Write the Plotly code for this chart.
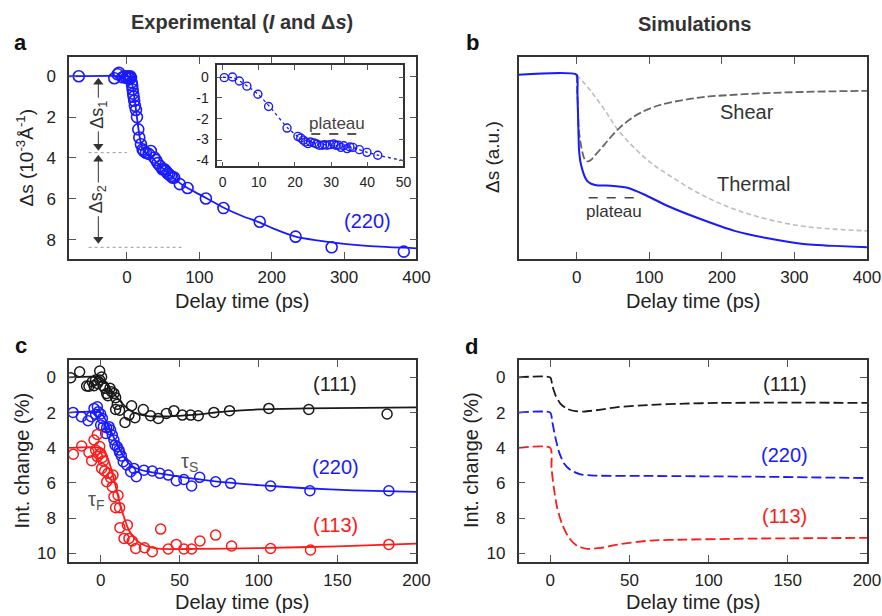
import plotly.graph_objects as go

FONT = "Liberation Sans, Arial, sans-serif"
BLUE = "#1a1aff"
RED = "#ff1a1a"
BLACK = "#1a1a1a"
DGRAY = "#666666"
LGRAY = "#bdbdbd"
TXT = "#333333"

# ---------------- Panel a: experimental (220) delta s ----------------
a_x = [-66.6, -17.5, -12.9, -11, -6, -3, -1, 1, 2.5, 3.5, 4.5, 5.5, 6.5, 7.2, 7.8, 8.5, 9.2, 10,
       11, 12.4, 13.8, 15.6, 17, 19.3, 21.6, 23, 26.2, 30, 33, 37.7, 40, 42.3, 46, 49, 51.5, 53.8,
       56, 58, 60.7, 63, 65.3, 73, 83.7, 109, 133.3, 183.4, 233, 282.8, 382.5]
a_y = [0, 0.1, -0.1, -0.17, 0.05, 0.0, 0.08, 0.0, 0.05, 0.12, 0.0, 0.08, 0.3, 0.45, 0.65, 0.85,
       1.0, 1.2, 1.45, 1.65, 2.0, 2.6, 3.0, 3.33, 3.58, 3.66, 3.74, 3.8, 3.66, 3.98, 4.1, 4.25,
       4.4, 4.55, 4.55, 4.63, 4.75, 4.8, 4.88, 4.96, 4.96, 5.28, 5.47, 5.98, 6.45, 7.12, 7.85,
       8.37, 8.58]
a_fit_x = [-80, 0, 4, 7, 9, 11, 13, 15, 17, 19, 21, 24, 28, 35, 45, 60, 80, 100, 133, 160, 183,
           200, 233, 260, 300, 350, 400]
a_fit_y = [0, 0, 0.05, 0.35, 0.75, 1.25, 1.8, 2.35, 2.85, 3.25, 3.52, 3.7, 3.82, 4.0, 4.35, 4.85,
           5.4, 5.78, 6.42, 6.85, 7.15, 7.42, 7.85, 8.02, 8.2, 8.34, 8.42]

# inset
in_x = [0.45, 2.7, 4.6, 6.7, 9.75, 12.7, 17.8, 20.8, 21.6, 22.3, 22.9, 23.6, 24.3, 25.3, 26.0,
        26.7, 27.6, 28.2, 28.9, 29.7, 30.7, 31.3, 32.0, 32.7, 33.5, 34.4, 35.2, 36.0, 37.8,
        39.9, 42.9]
in_y = [-0.02, 0.01, -0.18, -0.43, -0.82, -1.41, -2.45, -2.85, -2.93, -3.03, -3.12, -3.2, -3.12,
        -3.17, -3.22, -3.28, -3.28, -3.25, -3.28, -3.25, -3.22, -3.28, -3.28, -3.38, -3.3, -3.44,
        -3.36, -3.38, -3.49, -3.62, -3.76]
in_fit_x = [0, 3, 5, 7, 10, 13, 18, 21, 24, 28, 32, 36, 40, 43, 50]
in_fit_y = [0, -0.03, -0.22, -0.45, -0.85, -1.42, -2.45, -2.88, -3.12, -3.25, -3.3, -3.4, -3.62,
            -3.76, -4.02]

# ---------------- Panel b: simulations (arbitrary units) ----------------
b_tot_x = [-80, 0, 1, 2, 3.2, 5, 7.8, 11, 14.7, 20, 29, 47, 70, 93, 125.5, 171.5, 217.5, 263.4,
           309.4, 355, 400]
b_tot_y = [0, 0, 0.1, 0.25, 0.43, 0.5, 0.55, 0.59, 0.617, 0.632, 0.642, 0.643, 0.655, 0.694,
           0.761, 0.838, 0.905, 0.948, 0.979, 0.992, 1.0]
b_shear_x = [0, 1, 2, 3, 4.5, 6, 8, 10, 13, 16, 20, 24.4, 38.2, 56.6, 79.5, 102.5, 125.5, 171.5,
             217.5, 263.4, 309.4, 355, 400]
b_shear_y = [0, 0.1, 0.22, 0.32, 0.37, 0.41, 0.45, 0.48, 0.5, 0.502, 0.493, 0.472, 0.405, 0.318,
             0.241, 0.193, 0.164, 0.131, 0.116, 0.106, 0.1, 0.096, 0.093]
b_therm_x = [0, 19.8, 38.2, 56.6, 79.5, 102.5, 125.5, 171.5, 217.5, 263.4, 309.4, 355, 400]
b_therm_y = [0, 0.096, 0.202, 0.318, 0.424, 0.511, 0.578, 0.694, 0.78, 0.838, 0.877, 0.895, 0.905]

# ---------------- Panel c: experimental intensity change ----------------
c111_x = [-19, -13.3, -8.9, -7.4, -5.3, -4.2, -3.2, -2.1, -0.6, -0.6, 0.6, 1.5, 2.7, 3.8, 4.6,
          5.9, 6.9, 8.4, 9.5, 10.5, 9.5, 12, 15.4, 17.9, 19.6, 21.7, 27, 31.6, 36.5, 41.6, 46.4,
          51.7, 57, 61.8, 71.7, 81.6, 106.5, 131.8, 181.4]
c111_y = [0.02, -0.32, 0.49, 0.5, 0.25, 0.47, 0.15, 0.34, -0.36, 0.15, -0.02, 0.47, 0.62, 0.91,
          1.04, 0.62, 0.81, 0.91, 1.15, 1.53, 1.82, 1.86, 2.56, 2.14, 1.61, 2.29, 1.82, 2.18,
          2.33, 2.05, 1.89, 2.14, 2.14, 2.18, 1.99, 1.89, 1.76, 1.82, 2.08]
c111_fit_x = [-20, 0, 3, 6, 10, 15, 20, 25, 30, 40, 50, 60, 70, 80, 100, 130, 200]
c111_fit_y = [0, 0, 0.3, 0.65, 1.1, 1.6, 1.95, 2.12, 2.2, 2.22, 2.18, 2.12, 2.02, 1.93, 1.82,
              1.76, 1.7]

c220_x = [-17.5, -12.2, -8, -5.9, -4.2, -2.1, -3.2, -1.5, 0, 1.1, 0, 1.7, 3.8, 3.2, 5.3, 6.3,
          7.4, 8.4, 9.1, 10.5, 11.6, 12, 13.1, 14.3, 16.5, 19, 21.1, 22.6, 27.4, 32.7, 37.5,
          42.8, 47.9, 52.7, 57.6, 62.7, 72.8, 82.3, 107.6, 132.5, 182.5]
c220_y = [1.99, 2.23, 2.46, 2.23, 1.76, 1.67, 2.1, 1.95, 2.08, 2.33, 2.71, 2.8, 2.86, 3.18, 2.8,
          2.99, 3.28, 3.56, 3.85, 3.94, 4.13, 4.27, 4.46, 4.79, 4.98, 5.36, 5.17, 5.64, 5.27,
          5.32, 5.45, 5.55, 5.87, 5.8, 6.17, 5.68, 5.93, 6.02, 6.17, 6.44, 6.44]
c220_fit_x = [-20, 0, 3, 6, 9, 12, 15, 18, 22, 30, 40, 50, 70, 100, 130, 160, 200]
c220_fit_y = [2, 2, 2.4, 2.95, 3.55, 4.1, 4.55, 4.9, 5.15, 5.36, 5.5, 5.64, 5.88, 6.12, 6.3,
              6.42, 6.5]

c113_x = [-17.3, -12, -7.4, -5.7, -4.2, -3.2, -2.1, -2.1, -0.6, 0, 1.1, 1.7, 0.6, 2.5, 3.8,
          4.6, 6.3, 7.8, 7.4, 8.4, 9.5, 11, 12, 12.2, 14.8, 16.9, 17.9, 20, 22.2, 27.8, 32.7, 38,
          42.8, 47.9, 52.7, 57.6, 62.9, 72.8, 82.9, 107.6, 132.9, 182.5]
c113_y = [4.36, 3.9, 4.26, 4.73, 3.56, 4.13, 3.24, 4.5, 3.93, 4.32, 4.55, 4.75, 5.17, 5.32,
          5.93, 5.45, 5.7, 5.55, 6.21, 6.78, 7.4, 6.7, 7.4, 8.54, 9.15, 8.39, 9.15, 9.3, 9.72,
          9.68, 9.91, 8.62, 9.75, 9.49, 9.75, 9.75, 9.3, 8.96, 9.58, 9.72, 9.81, 9.49]
c113_fit_x = [-20, 0, 3, 6, 9, 12, 15, 18, 22, 28, 35, 45, 60, 100, 150, 200]
c113_fit_y = [4, 4, 4.3, 5.0, 6.0, 7.1, 8.0, 8.7, 9.2, 9.55, 9.72, 9.76, 9.75, 9.7, 9.6, 9.45]

# ---------------- Panel d: simulated intensity change ----------------
d111_x = [-20, 0, 1.3, 3.4, 6.5, 10.8, 16, 21.3, 31.9, 42.4, 63.5, 84.7, 105.8, 148, 200]
d111_y = [0, 0, 0.47, 1.04, 1.5, 1.79, 1.92, 1.94, 1.83, 1.69, 1.56, 1.49, 1.45, 1.43, 1.45]
d220_x = [-20, 0, 1.3, 3.4, 5.5, 8.7, 12.9, 19.2, 27.7, 63.5, 126.9, 200]
d220_y = [2, 2, 2.54, 3.48, 4.23, 4.89, 5.27, 5.51, 5.58, 5.6, 5.64, 5.72]
d113_x = [-20, 0, 0.8, 2.3, 4.4, 7.6, 11.8, 17.1, 23.4, 31.9, 42.4, 63.5, 84.7, 126.9, 200]
d113_y = [4, 4, 5.17, 6.3, 7.43, 8.37, 9.12, 9.59, 9.74, 9.69, 9.5, 9.27, 9.22, 9.16, 9.12]

# tick labels
a_xticks = [0, 100, 200, 300, 400]
a_yticks = [0, 2, 4, 6, 8]
c_xticks = [0, 50, 100, 150, 200]
c_yticks = [0, 2, 4, 6, 8, 10]
in_xticks = [0, 10, 20, 30, 40, 50]
in_yticks = [0, -1, -2, -3, -4]
in_yticktext = ["0", "-1", "-2", "-3", "-4"]

# positions below are given in reference-picture pixels (882 x 616)
W, H = 882, 616
# the captured page is squeezed ~1.7 % horizontally, so the figure is made that much wider
FIG_W, FIG_H = 897, 616


def px_x(p):
    return p / W


def px_y(p):
    return 1 - p / H


def axis(domain, rng, anchor, tickvals=None, ticktext=None, labels=True, ticks=True,
         size=17, standoff=8, ticklen=7):
    d = dict(domain=domain, range=rng, anchor=anchor, showline=True, linecolor="#333333",
             linewidth=1.5, mirror="ticks" if ticks else True, showgrid=False, zeroline=False,
             ticks="inside" if ticks else "", ticklen=ticklen, tickwidth=1.2, tickcolor="#555555",
             showticklabels=labels,
             tickfont=dict(family=FONT, size=size, color="#222222"),
             ticklabelstandoff=standoff)
    if tickvals is not None:
        d["tickmode"] = "array"
        d["tickvals"] = tickvals
        if ticktext is not None:
            d["ticktext"] = ticktext
    return d


fig = go.Figure()

# ---- panel a
fig.add_trace(go.Scatter(x=a_fit_x, y=a_fit_y, mode="lines", xaxis="x", yaxis="y",
                         line=dict(color=BLUE, width=1.8, shape="spline", smoothing=0.6)))
fig.add_trace(go.Scatter(x=a_x, y=a_y, mode="markers", xaxis="x", yaxis="y",
                         marker=dict(symbol="circle-open", size=11, color=BLUE,
                                     line=dict(width=1.6, color=BLUE))))
# delta-s arrows (heads as triangle markers)
arrow_x = [-39.6, -39.6, -39.6, -39.6]
arrow_y = [0.3, 3.42, 4.06, 7.98]
fig.add_trace(go.Scatter(x=arrow_x, y=arrow_y, mode="markers", xaxis="x", yaxis="y",
                         marker=dict(symbol=["triangle-up", "triangle-down", "triangle-up",
                                             "triangle-down"], size=9, color="#333333",
                                     line=dict(width=0))))
# inset
fig.add_trace(go.Scatter(x=in_fit_x, y=in_fit_y, mode="lines", xaxis="x5", yaxis="y5",
                         line=dict(color=BLUE, width=1.3, dash="dot", shape="spline",
                                   smoothing=0.6)))
fig.add_trace(go.Scatter(x=in_x, y=in_y, mode="markers", xaxis="x5", yaxis="y5",
                         marker=dict(symbol="circle-open", size=8, color=BLUE,
                                     line=dict(width=1.4, color=BLUE))))
fig.add_trace(go.Scatter(x=[24.5, 37.4], y=[-2.74, -2.74], mode="lines", xaxis="x5", yaxis="y5",
                         line=dict(color="#555555", width=2, dash="dash")))

# ---- panel b
fig.add_trace(go.Scatter(x=b_therm_x, y=b_therm_y, mode="lines", xaxis="x2", yaxis="y2",
                         line=dict(color=LGRAY, width=1.6, dash="5px,3px", shape="spline")))
fig.add_trace(go.Scatter(x=b_shear_x, y=b_shear_y, mode="lines", xaxis="x2", yaxis="y2",
                         line=dict(color=DGRAY, width=1.8, dash="8px,3px", shape="spline")))
fig.add_trace(go.Scatter(x=b_tot_x, y=b_tot_y, mode="lines", xaxis="x2", yaxis="y2",
                         line=dict(color=BLUE, width=2, shape="spline", smoothing=0.5)))
fig.add_trace(go.Scatter(x=[16.6, 80.5], y=[0.713, 0.713], mode="lines", xaxis="x2", yaxis="y2",
                         line=dict(color="#444444", width=1.6, dash="dash")))

# ---- panel c
for xs, ys, fx, fy, col in [(c111_x, c111_y, c111_fit_x, c111_fit_y, BLACK),
                            (c220_x, c220_y, c220_fit_x, c220_fit_y, BLUE),
                            (c113_x, c113_y, c113_fit_x, c113_fit_y, RED)]:
    fig.add_trace(go.Scatter(x=fx, y=fy, mode="lines", xaxis="x3", yaxis="y3",
                             line=dict(color=col, width=1.8, shape="spline", smoothing=0.6)))
    fig.add_trace(go.Scatter(x=xs, y=ys, mode="markers", xaxis="x3", yaxis="y3",
                             marker=dict(symbol="circle-open", size=10, color=col,
                                         line=dict(width=1.5, color=col))))

# ---- panel d
for xs, ys, col in [(d111_x, d111_y, BLACK), (d220_x, d220_y, BLUE), (d113_x, d113_y, RED)]:
    fig.add_trace(go.Scatter(x=xs, y=ys, mode="lines", xaxis="x4", yaxis="y4",
                             line=dict(color=col, width=1.8, dash="10px,4px", shape="spline",
                                       smoothing=0.6)))

# ---- layout axes
dom_left = [px_x(69), px_x(416)]
dom_right = [px_x(518), px_x(866)]
dom_top = [px_y(260), px_y(57)]
dom_bot = [px_y(564), px_y(361)]

fig.update_layout(
    width=FIG_W, height=FIG_H, autosize=False,
    margin=dict(l=0, r=0, t=0, b=0),
    paper_bgcolor="white", plot_bgcolor="rgba(0,0,0,0)",
    showlegend=False,
    font=dict(family=FONT, color=TXT),
    xaxis=axis(dom_left, [-80, 400], "y", a_xticks, standoff=2),
    yaxis=axis(dom_top, [8.95, -0.95], "x", a_yticks),
    xaxis2=axis(dom_right, [-80, 400], "y2", a_xticks, standoff=2),
    yaxis2=axis(dom_top, [1.069, -0.104], "x2", labels=False, ticks=False),
    xaxis3=axis(dom_left, [-20, 200], "y3", c_xticks, standoff=2),
    yaxis3=axis(dom_bot, [10.5, -1.0], "x3", c_yticks),
    xaxis4=axis(dom_right, [-20, 200], "y4", c_xticks, standoff=2),
    yaxis4=axis(dom_bot, [10.5, -1.0], "x4", c_yticks),
    xaxis5=axis([px_x(217), px_x(403)], [-1.5, 50], "y5", in_xticks, size=14, standoff=2,
                ticklen=5),
    yaxis5=axis([px_y(167), px_y(65)], [-4.3, 0.6], "x5", in_yticks, in_yticktext, size=14,
                standoff=4, ticklen=5),
)

ann = []


def paper_text(text, x, y, size, color=TXT, angle=0, bold=False):
    ann.append(dict(text=f"<b>{text}</b>" if bold else text, x=px_x(x), y=px_y(y),
                    xref="paper", yref="paper", showarrow=False, textangle=angle,
                    xanchor="center", yanchor="middle",
                    font=dict(family=FONT, size=size, color=color)))


def data_text(text, x, y, xr, yr, size, color=TXT, angle=0):
    ann.append(dict(text=text, x=x, y=y, xref=xr, yref=yr, showarrow=False, textangle=angle,
                    xanchor="center", yanchor="middle",
                    font=dict(family=FONT, size=size, color=color)))


# titles and panel letters
paper_text("Experimental (<i>I</i> and Δ<i>s</i>)", 242, 22, 20, "#333333", bold=True)
paper_text("Simulations", 694, 24, 20, "#333333", bold=True)
paper_text("a", 20, 43, 22, "#111111", bold=True)
paper_text("b", 472, 43, 22, "#111111", bold=True)
paper_text("c", 21, 347, 22, "#111111", bold=True)
paper_text("d", 471, 348, 22, "#111111", bold=True)

# axis titles
paper_text("Delay time (ps)", 242, 302, 20, "#222222")
paper_text("Delay time (ps)", 692, 302, 20, "#222222")
paper_text("Delay time (ps)", 242, 604, 20, "#222222")
paper_text("Delay time (ps)", 692, 604, 20, "#222222")
paper_text("Δs (10<sup>-3</sup>Å<sup>-1</sup>)", 25, 158, 19, "#222222", angle=-90)
paper_text("Δs (a.u.)", 492, 158, 19, "#222222", angle=-90)
paper_text("Int. change (%)", 21, 462, 20, "#222222", angle=-90)
paper_text("Int. change (%)", 470, 462, 20, "#222222", angle=-90)

# panel a labels
data_text("(220)", 332, 7.07, "x", "y", 20, BLUE)
data_text("plateau", 31.6, -2.25, "x5", "y5", 17, "#444444")
data_text("Δs<sub>1</sub>", -39.6, 1.87, "x", "y", 18, "#333333", angle=-90)
data_text("Δs<sub>2</sub>", -39.6, 6.0, "x", "y", 18, "#333333", angle=-90)

# panel b labels
data_text("Shear", 235, 0.216, "x2", "y2", 20, "#333333")
data_text("Thermal", 243, 0.632, "x2", "y2", 20, "#333333")
data_text("plateau", 52, 0.79, "x2", "y2", 17, "#333333")

# panel c labels
data_text("(111)", 148.7, 0.4, "x3", "y3", 20, "#222222")
data_text("(220)", 148.7, 5.07, "x3", "y3", 20, BLUE)
data_text("(113)", 148.7, 8.39, "x3", "y3", 20, RED)
data_text("τ<sub>S</sub>", 56.5, 4.85, "x3", "y3", 20, "#555555")
data_text("τ<sub>F</sub>", -3.2, 7.0, "x3", "y3", 20, "#555555")

# panel d labels
data_text("(111)", 148, 0.38, "x4", "y4", 20, "#222222")
data_text("(220)", 148, 4.42, "x4", "y4", 20, BLUE)
data_text("(113)", 148, 7.9, "x4", "y4", 20, RED)

shapes = [
    dict(type="line", xref="x", yref="y", x0=-53, x1=0, y0=3.74, y1=3.74,
         line=dict(color="#9a9a9a", width=1, dash="dot")),
    dict(type="line", xref="x", yref="y", x0=-53, x1=76, y0=8.37, y1=8.37,
         line=dict(color="#9a9a9a", width=1, dash="dot")),
]
# arrow shafts for delta s1 / delta s2
for y0, y1 in [(0.3, 1.05), (2.7, 3.42), (4.06, 5.2), (6.85, 7.98)]:
    shapes.append(dict(type="line", xref="x", yref="y", x0=-39.6, x1=-39.6, y0=y0, y1=y1,
                       line=dict(color="#333333", width=1)))

fig.update_layout(annotations=ann, shapes=shapes)
fig.write_html(
    "out.html",
    config={"displayModeBar": False},
    post_script=("document.documentElement.style.overflow='hidden';"
                 "document.body.style.margin='0';document.body.style.overflow='hidden';"),
)
